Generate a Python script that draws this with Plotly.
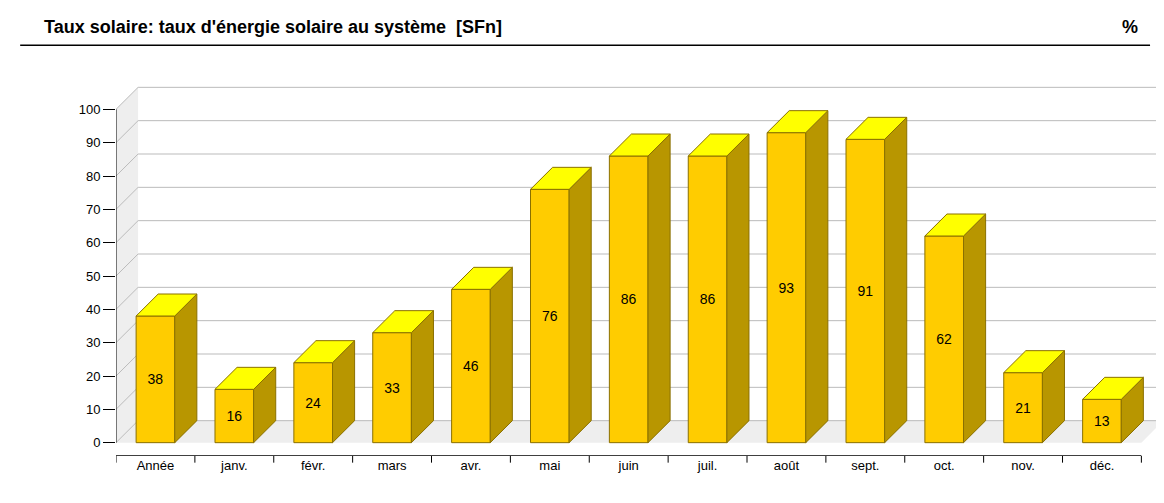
import plotly.graph_objects as go

categories = ["Année", "janv.", "févr.", "mars", "avr.", "mai", "juin", "juil.", "août", "sept.", "oct.", "nov.", "déc."]
values = [38, 16, 24, 33, 46, 76, 86, 86, 93, 91, 62, 21, 13]
ytick_vals = [0, 10, 20, 30, 40, 50, 60, 70, 80, 90, 100]

DX, DY, HW = 0.28, 6.6, 0.245
FRONT, TOP, SIDE, EDGE = "#FFCC00", "#FFFF00", "#B89600", "#8A7000"
xs = list(range(len(values)))

fig = go.Figure()
shapes = []
shapes.append(dict(type="path", layer="below", line=dict(width=0), fillcolor="#EEEEEE",
                   path=f"M -0.5,0 L {-0.5+DX},{DY} L {-0.5+DX},{100+DY} L -0.5,100 Z"))
shapes.append(dict(type="path", layer="below", line=dict(width=0), fillcolor="#EEEEEE",
                   path=f"M -0.5,0 L 12.5,0 L {12.5+DX},{DY} L {-0.5+DX},{DY} Z"))
for v in ytick_vals:
    shapes.append(dict(type="path", layer="below", line=dict(color="#BBBBBB", width=1),
                       path=f"M -0.5,{v} L {-0.5+DX},{v+DY} L {12.5+DX},{v+DY}"))
shapes.append(dict(type="line", x0=-0.5, x1=12.5, y0=-4, y1=-4, line=dict(color="black", width=1.5)))
for k in range(14):
    shapes.append(dict(type="line", x0=k-0.5, x1=k-0.5, yref="paper", y0=0, y1=-0.018,
                       line=dict(color="black", width=1)))
shapes.append(dict(type="line", x0=-0.5, x1=-0.5, y0=0, y1=100, line=dict(color="black", width=1)))
shapes.append(dict(type="line", xref="paper", yref="paper", x0=-0.091, x1=0.982, y0=1.11, y1=1.11,
                   line=dict(color="black", width=1.5)))

fig.add_trace(go.Bar(x=xs, y=values, width=2*HW, marker=dict(color=FRONT, line=dict(color=EDGE, width=1)),
                     text=[str(v) for v in values], textposition="inside", insidetextanchor="middle",
                     textfont=dict(color="black", size=14), hoverinfo="skip"))
sx, sy, tx, ty = [], [], [], []
for i, v in zip(xs, values):
    r = i + HW
    sx += [r, r+DX, r+DX, r, r, None]
    sy += [0, DY, v+DY, v, 0, None]
    l = i - HW
    tx += [l, r, r+DX, l+DX, l, None]
    ty += [v, v, v+DY, v+DY, v, None]
fig.add_trace(go.Scatter(x=sx, y=sy, mode="lines", fill="toself", fillcolor=SIDE,
                         line=dict(color=EDGE, width=1), hoverinfo="skip"))
fig.add_trace(go.Scatter(x=tx, y=ty, mode="lines", fill="toself", fillcolor=TOP,
                         line=dict(color=EDGE, width=1), hoverinfo="skip"))

fig.update_layout(
    width=1164, height=503, showlegend=False, plot_bgcolor="white", paper_bgcolor="white",
    margin=dict(l=108, r=3, t=78, b=55),
    font=dict(family="Liberation Sans, Arial", size=13, color="black"),
    shapes=shapes,
    xaxis=dict(range=[-0.5, 12.85], tickvals=xs, ticktext=categories, showgrid=False,
               zeroline=False, showline=False, ticks="", tickfont=dict(size=13)),
    yaxis=dict(range=[-4, 107], tickvals=ytick_vals, showgrid=False, zeroline=False,
               showline=False, ticks="outside", ticklen=12, tickcolor="black",
               tickfont=dict(size=13)),
    annotations=[
        dict(text="<b>Taux solaire: taux d'énergie solaire au système  [SFn]</b>", xref="paper", yref="paper",
             x=-0.070, y=1.16, xanchor="left", yanchor="middle", showarrow=False, font=dict(size=18)),
        dict(text="<b>%</b>", xref="paper", yref="paper", x=0.972, y=1.16, xanchor="right",
             yanchor="middle", showarrow=False, font=dict(size=18)),
    ],
)
fig.write_html("out.html")
